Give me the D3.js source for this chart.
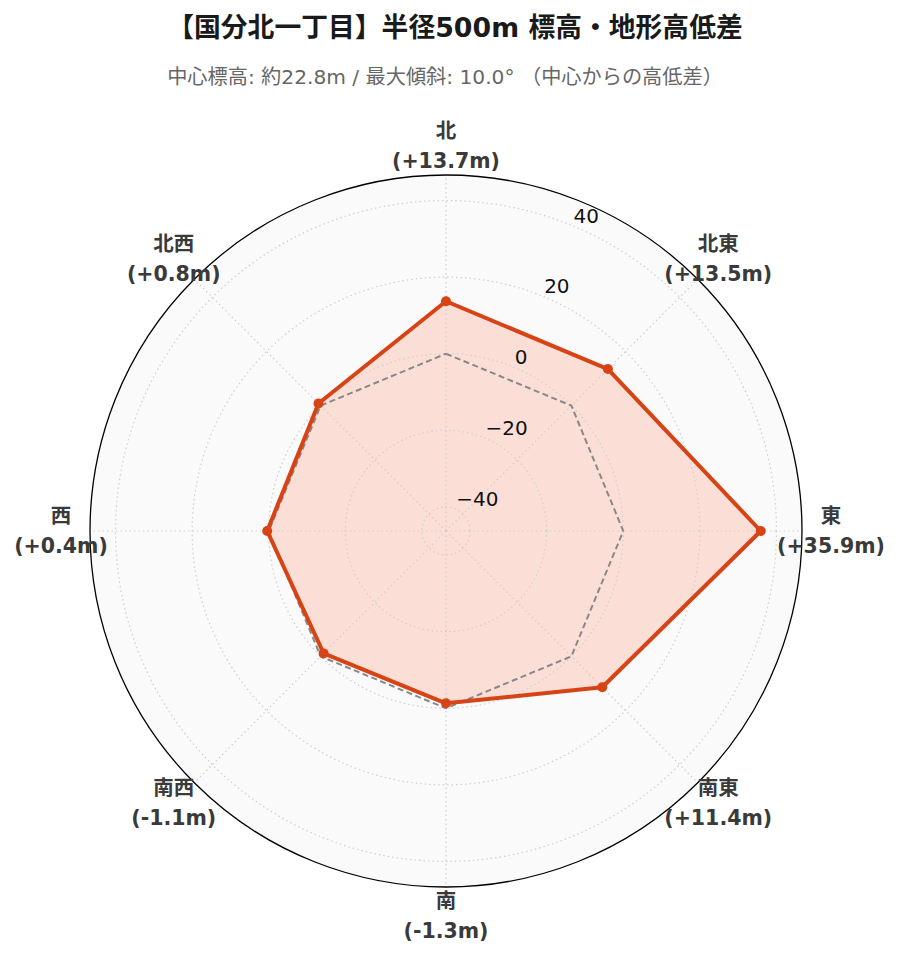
<!DOCTYPE html>
<html>
<head>
<meta charset="utf-8">
<script src="https://cdn.jsdelivr.net/npm/d3@7"></script>
<style>
  html, body { margin: 0; padding: 0; background: #ffffff; }
  svg { display: block; }
</style>
</head>
<body>
<div id="chart"></div>
<script>
const directions = ["北", "北東", "東", "南東", "南", "南西", "西", "北西"];
const diffValues = [13.7, 13.5, 35.9, 11.4, -1.3, -1.1, 0.4, 0.8];
const baselineValue = 0;
const radialTicks = [-40, -20, 0, 20, 40];
const radialDomain = [-46.3, 46.67];
const titleText = "【国分北一丁目】半径500m 標高・地形高低差";
const subtitleText = "中心標高: 約22.8m / 最大傾斜: 10.0° （中心からの高低差）";

const W = 900, H = 962;
const cx = 446, cy = 531, R = 356;
const FONT = "'DejaVu Sans', 'Noto Sans CJK JP', sans-serif";

const svg = d3.select("#chart").append("svg")
  .attr("width", W).attr("height", H)
  .style("font-family", FONT);

svg.append("text")
  .attr("x", 455).attr("y", 27)
  .attr("text-anchor", "middle").attr("dominant-baseline", "central")
  .style("font-size", "26.8px").style("font-weight", "bold").attr("fill", "#1a1a1a")
  .text(titleText);

svg.append("text")
  .attr("x", 445).attr("y", 77)
  .attr("text-anchor", "middle").attr("dominant-baseline", "central")
  .style("font-size", "20.2px").attr("fill", "#666666")
  .text(subtitleText);

const r = d3.scaleLinear().domain(radialDomain).range([0, R]);
const angle = d3.scaleBand().domain(directions).range([0, 2 * Math.PI]).align(0).paddingInner(0).paddingOuter(0);
const ang = d => angle(d);

const g = svg.append("g").attr("transform", `translate(${cx},${cy})`);

// background
g.append("circle").attr("r", R).attr("fill", "#fafafa");

// fill polygon
const pts = directions.map((d, i) => [ang(d), r(diffValues[i])]);
const radial = d3.lineRadial().angle(p => p[0]).radius(p => p[1]).curve(d3.curveLinearClosed);
g.append("path").attr("d", radial(pts)).attr("fill", "#ffa389").attr("fill-opacity", 0.3);

// grid circles
g.selectAll(".gridc").data(radialTicks).join("circle")
  .attr("r", d => r(d)).attr("fill", "none")
  .attr("stroke", "#cfcfcf").attr("stroke-width", 1.2).attr("stroke-dasharray", "1.5,3");

// spokes
g.selectAll(".spoke").data(directions).join("line")
  .attr("x1", 0).attr("y1", 0)
  .attr("x2", d => R * Math.sin(ang(d))).attr("y2", d => -R * Math.cos(ang(d)))
  .attr("stroke", "#cfcfcf").attr("stroke-width", 1.2).attr("stroke-dasharray", "1.5,3");

// baseline dashed
const basePts = directions.map(d => [ang(d), r(baselineValue)]);
g.append("path").attr("d", radial(basePts)).attr("fill", "none")
  .attr("stroke", "#888888").attr("stroke-width", 2).attr("stroke-dasharray", "6,3.5");

// main line
g.append("path").attr("d", radial(pts)).attr("fill", "none")
  .attr("stroke", "#d84315").attr("stroke-width", 4).attr("stroke-linejoin", "round");

g.selectAll(".pt").data(pts).join("circle")
  .attr("cx", p => p[1] * Math.sin(p[0])).attr("cy", p => -p[1] * Math.cos(p[0]))
  .attr("r", 5).attr("fill", "#d84315");

// outer circle
g.append("circle").attr("r", R).attr("fill", "none").attr("stroke", "#000").attr("stroke-width", 1.3);

// radial tick labels
const rlab = 22.5 * Math.PI / 180;
g.selectAll(".rl").data(radialTicks).join("text")
  .attr("x", d => r(d) * Math.sin(rlab) + 1)
  .attr("y", d => -r(d) * Math.cos(rlab) - 3)
  .attr("text-anchor", "start")
  .style("font-size", "20px").attr("fill", "#111")
  .text(d => d3.format("d")(d).replace("-", "\u2212"));

// angular labels
const fmt = v => "(" + (v >= 0 ? "+" : "") + v.toFixed(1) + "m)";
const LR = 385;
const lab = g.selectAll(".al").data(directions).join("text")
  .attr("text-anchor", "middle")
  .style("font-size", "20.5px").style("font-weight", "bold").attr("fill", "#3a3a3a")
  .attr("transform", d => `translate(${LR * Math.sin(ang(d))},${-LR * Math.cos(ang(d))})`);
lab.append("tspan").attr("x", 0).attr("y", -15).attr("dominant-baseline", "central").text(d => d);
lab.append("tspan").attr("x", 0).attr("y", 15).attr("dominant-baseline", "central").text((d, i) => fmt(diffValues[i]));
</script>
</body>
</html>
